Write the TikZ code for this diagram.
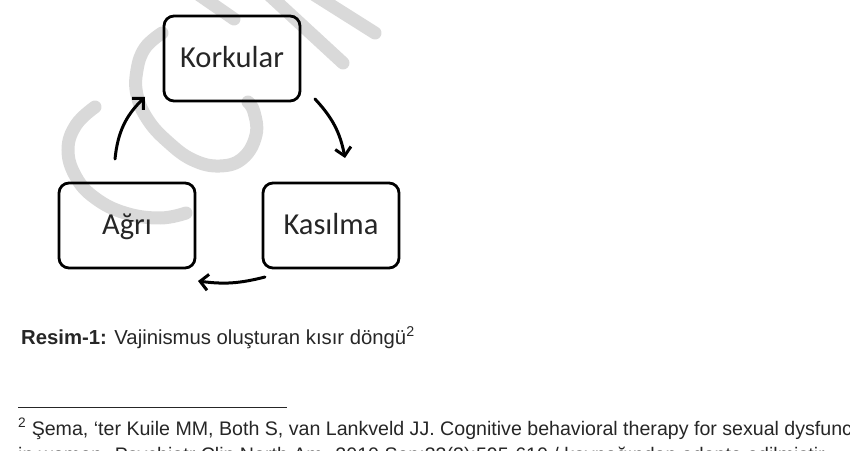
\documentclass[tikz,border=0pt]{standalone}
\usepackage{fontspec}
\setmainfont{Liberation Sans}
\newfontfamily\calibri{Carlito}
\usetikzlibrary{arrows.meta,calc}
\begin{document}
\begin{tikzpicture}[x=1pt,y=1pt,
  box/.style={draw, line width=2.8pt, rounded corners=10pt, minimum width=136pt, minimum height=85pt,
    outer sep=0pt, inner sep=0pt, text height=19pt, text depth=0pt,
    font=\calibri\fontsize{30.5}{34}\selectfont, text=black!85},
  cyc/.style={line width=3pt, -{Straight Barb[length=8pt,width=16pt]}, line cap=round},
  wmstroke/.style={draw=black!15, line width=13pt, line cap=round},
  txt/.style={anchor=base west, inner sep=0pt, text=black!85}]
\useasboundingbox (0,0) rectangle (850,450);
\clip (0,0) rectangle (850,450);
% watermark strokes (screen coordinates)
\begin{scope}[yshift=450pt, yscale=-1]
  \draw[wmstroke] plot[smooth, tension=0.7] coordinates {(95,107) (76,125) (68,150) (76,177) (95,198) (125,213) (160,218) (186,213)};
  \draw[wmstroke] plot[smooth, tension=0.7] coordinates {(162,33) (145,48) (137,70) (137,95) (148,120) (168,142) (193,160) (220,166) (243,158) (256,135) (254,112) (248,102)};
  \draw[wmstroke] (195,-8) -- (234,19);
  \draw[wmstroke] (266,-8) -- (343,63);
  \draw[wmstroke] (310,-8) -- (375,33);
\end{scope}
% boxes
\node[box] (kork) at (232,391.5) {Korkular};
\node[box] (agri) at (127,224.5) {Ağrı};
\node[box] (kas)  at (331,224.5) {Kasılma};
% cycle arrows
\draw[cyc] ([shift={(-12,24)}]agri.north) to[bend left=20] ([shift={(-87,4)}]kork.south);
\draw[cyc] ([shift={(83,2)}]kork.south) to[bend left=16] ([shift={(14,25)}]kas.north);
\draw[cyc] ([shift={(-66,-9)}]kas.south) to[bend left=11] ([shift={(71,-13)}]agri.south);
% caption
\node[txt, font=\fontsize{20.3}{24}\selectfont] (cap) at (21,106)
  {\textbf{Resim-1:} Vajinismus oluşturan kısır döngü\textsuperscript{2}};
% footnote
\coordinate (r1) at (18,43);
\coordinate (r2) at (287,43);
\draw[line width=1pt, black!85] (r1) -- (r2);
\node[txt, font=\fontsize{19.6}{23}\selectfont] (fn1) at (18,15)
  {\textsuperscript{2} Şema, ‘ter Kuile MM, Both S, van Lankveld JJ. Cognitive behavioral therapy for sexual dysfunction};
\node[txt, font=\fontsize{19.6}{23}\selectfont] (fn2) at (18,-11)
  {in women. Psychiatr Clin North Am. 2010 Sep;33(3):595-610 / kaynağından adapte edilmiştir.};
\end{tikzpicture}
\end{document}
